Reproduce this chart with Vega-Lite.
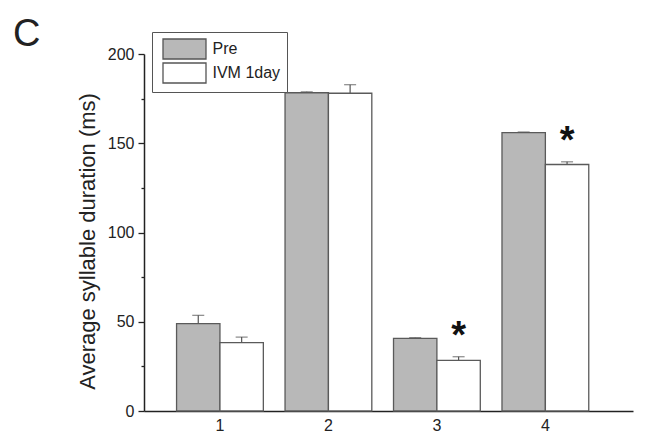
{
  "$schema": "https://vega.github.io/schema/vega-lite/v6.json",
  "width": 489,
  "height": 357,
  "autosize": {"type": "none"},
  "padding": {"left": 144, "top": 54, "right": 15, "bottom": 23},
  "background": "white",
  "config": {
    "view": {"stroke": null},
    "font": "Liberation Sans",
    "axis": {"labelFont": "Liberation Sans", "titleFont": "Liberation Sans", "labelColor": "#222", "titleColor": "#222", "domainColor": "#222", "tickColor": "#222"}
  },
  "title": {
    "text": "C",
    "anchor": "start",
    "frame": "group",
    "fontSize": 38,
    "fontWeight": "normal",
    "font": "Liberation Sans",
    "color": "#222",
    "dx": -131,
    "dy": 26,
    "offset": 4
  },
  "data": {
    "values": [
      {"group": "1", "cond": "Pre", "mean": 49.0, "upper": 53.6, "sig": ""},
      {"group": "1", "cond": "IVM 1day", "mean": 38.3, "upper": 41.4, "sig": ""},
      {"group": "2", "cond": "Pre", "mean": 178.3, "upper": 178.8, "sig": ""},
      {"group": "2", "cond": "IVM 1day", "mean": 178.0, "upper": 182.8, "sig": ""},
      {"group": "3", "cond": "Pre", "mean": 40.7, "upper": 41.1, "sig": ""},
      {"group": "3", "cond": "IVM 1day", "mean": 28.4, "upper": 30.4, "sig": "*"},
      {"group": "4", "cond": "Pre", "mean": 155.9, "upper": 156.3, "sig": ""},
      {"group": "4", "cond": "IVM 1day", "mean": 138.1, "upper": 139.6, "sig": "*"}
    ]
  },
  "encoding": {
    "x": {
      "field": "group",
      "type": "nominal",
      "scale": {"paddingInner": 0.2, "paddingOuter": 0.354, "align": 0.424},
      "axis": {
        "title": null,
        "labelAngle": 0,
        "ticks": false,
        "labelFontSize": 16,
        "labelPadding": 6,
        "domainWidth": 1.5
      }
    },
    "xOffset": {
      "field": "cond",
      "type": "nominal",
      "sort": ["Pre", "IVM 1day"],
      "scale": {"paddingInner": 0, "paddingOuter": 0}
    }
  },
  "layer": [
    {
      "mark": {"type": "rule", "color": "#555", "strokeWidth": 1.2},
      "encoding": {
        "y": {"field": "mean", "type": "quantitative"},
        "y2": {"field": "upper"}
      }
    },
    {
      "mark": {"type": "tick", "orient": "horizontal", "color": "#555", "size": 12, "thickness": 1.2},
      "encoding": {
        "y": {"field": "upper", "type": "quantitative"}
      }
    },
    {
      "mark": {"type": "bar", "stroke": "#5a5a5a", "strokeWidth": 1.3, "opacity": 1},
      "encoding": {
        "y": {
          "field": "mean",
          "type": "quantitative",
          "scale": {"domain": [0, 200], "nice": false},
          "axis": {
            "title": "Average syllable duration (ms)",
            "titleFontSize": 22,
            "titleFontWeight": "normal",
            "titlePadding": 8,
            "titleY": 187,
            "values": [0, 25, 50, 75, 100, 125, 150, 175, 200],
            "labelExpr": "datum.value % 50 === 0 ? datum.label : ''",
            "tickSize": {"condition": {"test": "datum.value % 50 === 0", "value": 6}, "value": 3},
            "labelFontSize": 16,
            "labelPadding": 4,
            "grid": false,
            "domainWidth": 1.5,
            "tickWidth": 1.3
          }
        },
        "fill": {
          "field": "cond",
          "type": "nominal",
          "sort": ["Pre", "IVM 1day"],
          "scale": {"domain": ["Pre", "IVM 1day"], "range": ["#b8b8b8", "#ffffff"]},
          "legend": {
            "title": null,
            "orient": "none",
            "legendX": 8,
            "legendY": -22,
            "strokeColor": "#555",
            "fillColor": "white",
            "padding": 6,
            "symbolType": "M-2.15,-1H2.15V1H-2.15Z",
            "symbolSize": 400,
            "symbolStrokeColor": "#555",
            "symbolStrokeWidth": 1.3,
            "symbolOffset": 15.5,
            "labelOffset": 17,
            "labelFontSize": 16,
            "labelFont": "Liberation Sans",
            "labelColor": "#222",
            "rowPadding": -3
          }
        }
      }
    },
    {
      "mark": {"type": "text", "fontSize": 38, "fontWeight": "bold", "baseline": "middle", "dy": -20, "color": "#111"},
      "encoding": {
        "y": {"field": "upper", "type": "quantitative"},
        "text": {"field": "sig"}
      }
    }
  ]
}
